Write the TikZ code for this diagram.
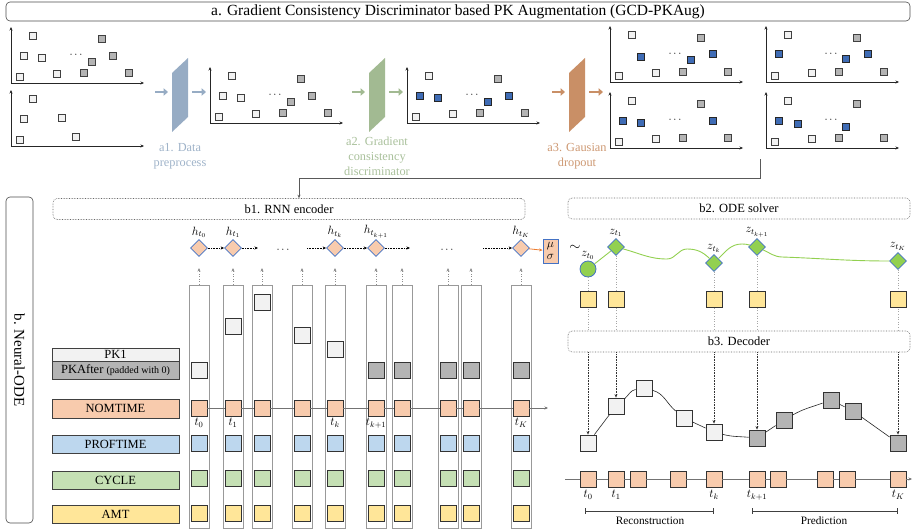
\documentclass[tikz,border=0pt]{standalone}
\usepackage{fontspec}
\setmainfont{Liberation Serif}
\usepackage{tikz}
\usetikzlibrary{arrows.meta,shapes.geometric}

\definecolor{peach}{HTML}{F8CBAD}
\definecolor{skyb}{HTML}{BDD7EE}
\definecolor{leaf}{HTML}{C5E0B4}
\definecolor{sand}{HTML}{FFE699}
\definecolor{pale}{HTML}{F2F2F2}
\definecolor{mid}{HTML}{B4B4B4}
\definecolor{deep}{HTML}{3F6CB5}
\definecolor{edgeb}{HTML}{4472C4}
\definecolor{zgreen}{HTML}{92D050}
\definecolor{orng}{HTML}{ED7D31}
\definecolor{prep}{HTML}{97ACC4}
\definecolor{grad}{HTML}{A2BA92}
\definecolor{gaus}{HTML}{C98F66}

\begin{document}
\begin{tikzpicture}[x=1pt,y=-1pt,>={Stealth[length=3.5pt,width=3pt]},
    font=\fontsize{12.5}{15}\selectfont]

  \tikzstyle{outer}=[draw=black!70,rounded corners=4pt,line width=0.6pt]
  \tikzstyle{stage}=[draw=black!60,densely dotted,rounded corners=4pt,line width=0.6pt,
    minimum width=342,minimum height=21,inner sep=0pt]
  \tikzstyle{pw}=[rectangle,draw=black!75,fill=pale,line width=0.8pt,
    minimum size=7.5pt,inner sep=0pt]
  \tikzstyle{pg}=[pw,fill=mid]
  \tikzstyle{pb}=[pw,fill=deep,draw=black!85]
  \tikzstyle{axisline}=[<->,draw=black!85,line width=0.6pt]
  \tikzstyle{fat}=[line width=2.6pt,-{Triangle[length=4.5pt,width=7.5pt]}]
  \tikzstyle{feat}=[draw=black!75,line width=0.7pt,minimum width=127,
    minimum height=18,inner sep=0pt]
  \tikzstyle{slot}=[draw=black!40,line width=0.8pt,minimum width=20,
    minimum height=243,inner sep=0pt]
  \tikzstyle{cell}=[draw=black!80,line width=0.8pt,minimum size=16,inner sep=0pt]
  \tikzstyle{hid}=[diamond,draw=edgeb,fill=peach,line width=0.7pt,
    minimum width=17,minimum height=17,inner sep=0pt]
  \tikzstyle{lat}=[hid,fill=zgreen]
  \tikzstyle{mathlbl}=[font=\fontsize{11.5}{12}\selectfont,inner sep=1pt]
  \tikzstyle{rnn}=[->,densely dotted,line width=0.6pt]
  \tikzstyle{feed}=[->,dotted,black!45,line width=0.6pt]
  \tikzstyle{guide}=[dotted,black!35,line width=0.6pt]
  \tikzstyle{darr}=[->,densely dotted,black!80,line width=0.6pt]
  \tikzstyle{tline}=[black!55,line width=0.9pt]
  \tikzstyle{zline}=[zgreen,line width=0.9pt]
  \tikzstyle{dline}=[black!85,line width=0.6pt]
  \tikzstyle{spanline}=[|-|,black!75,line width=0.7pt]

  \useasboundingbox (0,0) rectangle (918,532);

  %% a. augmentation
  \node (title) at (458,11.5) [outer,minimum width=904,minimum height=19,inner sep=0pt,
    font=\fontsize{15.5}{17}\selectfont]
    {a. Gradient Consistency Discriminator based PK Augmentation (GCD-PKAug)};

  \foreach \ox/\oy/\mids [count=\m] in {
      11/83/{13/-27/pw,31/-25/pw,102/-27/pg,81/-21/pg},
      210/123/{13/-27/pw,31/-25/pw,102/-27/pg,81/-21/pg},
      407/123/{13/-27/pb,31/-25/pb,102/-27/pb,81/-21/pb},
      610/82/{31/-25/pb,103/-28/pb,81/-22/pb},
      766/82/{13/-28/pb,102/-28/pb,80/-23/pb},
      610/148/{13/-27/pb,31/-25/pb,103/-27/pb},
      766/148/{13/-27/pb,32/-24/pb,80/-21/pb}} {
    \begin{scope}[shift={(\ox,\oy)}]
      \draw [axisline] (0,-56) -- (0,0) -- (133,0);
      \foreach \x/\y/\s [count=\n] in {22/-47/pw,91/-44/pg,9/-6/pw,46/-9/pw,73/-10/pg,118/-10/pg}
        \node (s\m-\n) at (\x,\y) [\s] {};
      \foreach \x/\y/\s [count=\n] in \mids
        \node (v\m-\n) at (\x,\y) [\s] {};
      \node (dots\m) at (65,-28) [font=\fontsize{11}{11}\selectfont] {$\cdots$};
    \end{scope}}

  \draw [axisline] (11,90) -- (11,146) -- (144,146);
  \foreach \x/\y [count=\n] in {33/99,24/119,62/118,20/140,76/137}
    \node (q\n) at (\x,\y) [pw] {};

  \foreach \gx/\c/\txt in {0/prep/{a1. Data\\preprocess},
      197/grad/{a2. Gradient\\consistency\\discriminator},
      397/gaus/{a3. Gausian\\dropout}} {
    \fill [\c] (172+\gx,73) -- (188+\gx,58) -- (188+\gx,117) -- (172+\gx,132) -- cycle;
    \coordinate (\c-a) at (155+\gx,92);
    \coordinate (\c-b) at (168+\gx,92);
    \coordinate (\c-c) at (192+\gx,92);
    \coordinate (\c-d) at (206+\gx,92);
    \draw [fat,\c] (\c-a) -- (\c-b);
    \draw [fat,\c] (\c-c) -- (\c-d);
    \node (\c-lbl) at (180+\gx,156) [text=\c!92,align=center,
      font=\fontsize{12.3}{15}\selectfont] {\txt};
  }

  %% b. Neural-ODE
  \node (neural) at (19.5,360) [outer,rotate=-90,minimum width=326,minimum height=27,
    font=\fontsize{15}{17}\selectfont] {b. Neural-ODE};

  \node (b1) at (289,209) [stage,minimum width=472] {b1. RNN encoder};
  \node (b2) at (739,208.5) [stage] {b2. ODE solver};
  \node (b3) at (739,341.5) [stage] {b3. Decoder};

  \coordinate (augout) at (760,159);
  \coordinate (bend) at (299,178);
  \draw [black!65,line width=0.7pt,->] (augout) |- (bend) -- (bend |- b1.north);

  \node (fpk1) at (115.5,354.5) [feat,fill=pale,minimum height=13] {PK1};
  \node (fpkafter) at (115.5,370) [feat,fill=mid]
    {PKAfter {\fontsize{10}{12}\selectfont(padded with 0)}};
  \node (fnom) at (115.5,408.5) [feat,fill=peach,minimum height=19] {NOMTIME};
  \node (fprof) at (115.5,444) [feat,fill=skyb] {PROFTIME};
  \node (fcyc) at (115.5,480) [feat,fill=leaf] {CYCLE};
  \node (famt) at (115.5,514) [feat,fill=sand] {AMT};

  \foreach \x/\pk/\f [count=\n] in {199/370/pale,233/326/pale,262/302/pale,302/335/pale,
      335/349/pale,376/370/mid,402/370/mid,448/370/mid,471/370/mid,521/370/mid} {
    \node (col\n) at (\x,406.5) [slot] {};
    \node (pk\n) at (\x,\pk) [cell,fill=\f] {};
    \node (nom\n) at (\x,408) [cell,fill=peach] {};
    \node (prof\n) at (\x,443) [cell,fill=skyb] {};
    \node (cyc\n) at (\x,478) [cell,fill=leaf] {};
    \node (amt\n) at (\x,513) [cell,fill=sand] {};
    \coordinate (up\n) at (\x,268);
    \draw [feed] (col\n) -- (up\n);
  }

  \coordinate (nomend) at (548,408);
  \foreach \a/\b in {1/2,2/3,3/4,4/5,5/6,6/7,7/8,8/9,9/10}
    \draw [tline] (nom\a) -- (nom\b);
  \draw [tline,->] (nom10) -- (nomend);

  \foreach \n/\x/\hl/\tl in {1/199/h_{t_0}/t_0,2/233/h_{t_1}/t_1,5/335/h_{t_k}/t_k,
      6/376/h_{t_{k+1}}/t_{k+1},10/521/h_{t_K}/t_K} {
    \node (tl\n) at (nom\n.south) [mathlbl,anchor=north,inner sep=1.5pt] {$\tl$};
    \node (h\n) at (\x,248) [hid] {};
    \node (hl\n) at (h\n.north) [mathlbl,anchor=south] {$\hl$};
  }

  \coordinate (hx1) at (258,248);
  \coordinate (hx2) at (307,248);
  \coordinate (hx3) at (410,248);
  \coordinate (hx4) at (483,248);
  \node (hdots1) at (283,250) [font=\fontsize{11}{11}\selectfont] {$\cdots$};
  \node (hdots2) at (447,250) [font=\fontsize{11}{11}\selectfont] {$\cdots$};
  \draw [rnn] (h1) -- (h2);
  \draw [rnn] (h2) -- (hx1);
  \draw [rnn] (hx2) -- (h5);
  \draw [rnn] (h5) -- (h6);
  \draw [rnn] (h6) -- (hx3);
  \draw [rnn] (hx4) -- (h10);

  \node (musig) at (550.5,251) [draw=edgeb,fill=peach,line width=0.8pt,minimum width=15,
    minimum height=24,inner sep=0pt,align=center,font=\fontsize{12.5}{12}\selectfont]
    {$\mu$\\$\sigma$};
  \draw [orng,line width=0.8pt,->] (h10) -- (musig);

  %% ODE solver
  \node (z0) at (588,269) [circle,draw=edgeb,fill=zgreen,line width=0.8pt,
    minimum size=16,inner sep=0pt] {};
  \node (z1) at (616,247) [lat] {};
  \node (zk) at (714,263) [lat] {};
  \node (zk1) at (757,247) [lat] {};
  \node (zK) at (898,261) [lat] {};
  \foreach \z/\zl in {z0/z_{t_0},z1/z_{t_1},zk/z_{t_k},zk1/z_{t_{k+1}},zK/z_{t_K}}
    \node (l\z) at (\z.north) [mathlbl,anchor=south] {$\zl$};
  \node (tilde) at (575,248) [font=\fontsize{14}{14}\selectfont] {$\sim$};

  \coordinate (w1) at (667,259);
  \coordinate (w2) at (687,249);
  \coordinate (w3) at (742,244);
  \coordinate (w4) at (782,257);
  \draw [zline] (z0) -- (z1);
  \draw [zline] (z1) to[out=-15,in=180] (w1) to[out=0,in=180] (w2) to[out=0,in=135] (zk);
  \draw [zline] (zk) to[out=45,in=180] (w3) to[out=0,in=165] (zk1);
  \draw [zline] (zk1) to[out=-25,in=178] (w4) to[out=-2,in=180] (zK);

  \coordinate (yrow) at (600,299);
  \foreach \z in {z0,z1,zk,zk1,zK} {
    \draw [guide] (\z.south) -- (\z |- b3.north);
    \node (y\z) at (\z |- yrow) [cell,fill=sand] {};
  }

  %% decoder
  \foreach \x/\y/\f [count=\n] in {588/443/pale,616/406/pale,644/388/pale,684/418/pale,
      714/432/pale,757/438/mid,784/420/mid,831/400/mid,853/411/mid,898/443/mid}
    \node (d\n) at (\x,\y) [cell,fill=\f] {};
  \draw [dline] (d1) -- (d2) to[out=40,in=190] (d3) to[out=-15,in=140] (d4) -- (d5)
    to[out=-15,in=175] (d6) -- (d7) to[out=30,in=200] (d8) -- (d9) -- (d10);
  \foreach \z/\n in {z0/1,z1/2,zk/5,zk1/6,zK/10}
    \draw [darr] (\z |- b3.south) -- (d\n);

  \foreach \x [count=\n] in {588,616,638,678,714,757,778,825,847,898}
    \node (tk\n) at (\x,479) [cell,fill=peach] {};
  \coordinate (tlstart) at (565,479);
  \coordinate (tlend) at (912,479);
  \draw [tline] (tlstart) -- (tk1);
  \foreach \a/\b in {1/2,2/3,3/4,4/5,5/6,6/7,7/8,8/9,9/10}
    \draw [tline] (tk\a) -- (tk\b);
  \draw [tline,->] (tk10) -- (tlend);
  \foreach \n/\tl in {1/t_0,2/t_1,5/t_k,6/t_{k+1},10/t_K}
    \node (tt\n) at (tk\n.south) [mathlbl,anchor=north,inner sep=2.5pt] {$\tl$};

  \coordinate (rec0) at (585,511);
  \coordinate (rec1) at (714,511);
  \coordinate (pre0) at (752,511);
  \coordinate (pre1) at (898,511);
  \draw [spanline] (rec0) -- (rec1);
  \draw [spanline] (pre0) -- (pre1);
  \node (reclbl) at (650,521) [font=\fontsize{11.3}{13}\selectfont] {Reconstruction};
  \node (prelbl) at (824,521) [font=\fontsize{11.3}{13}\selectfont] {Prediction};
\end{tikzpicture}
\end{document}
